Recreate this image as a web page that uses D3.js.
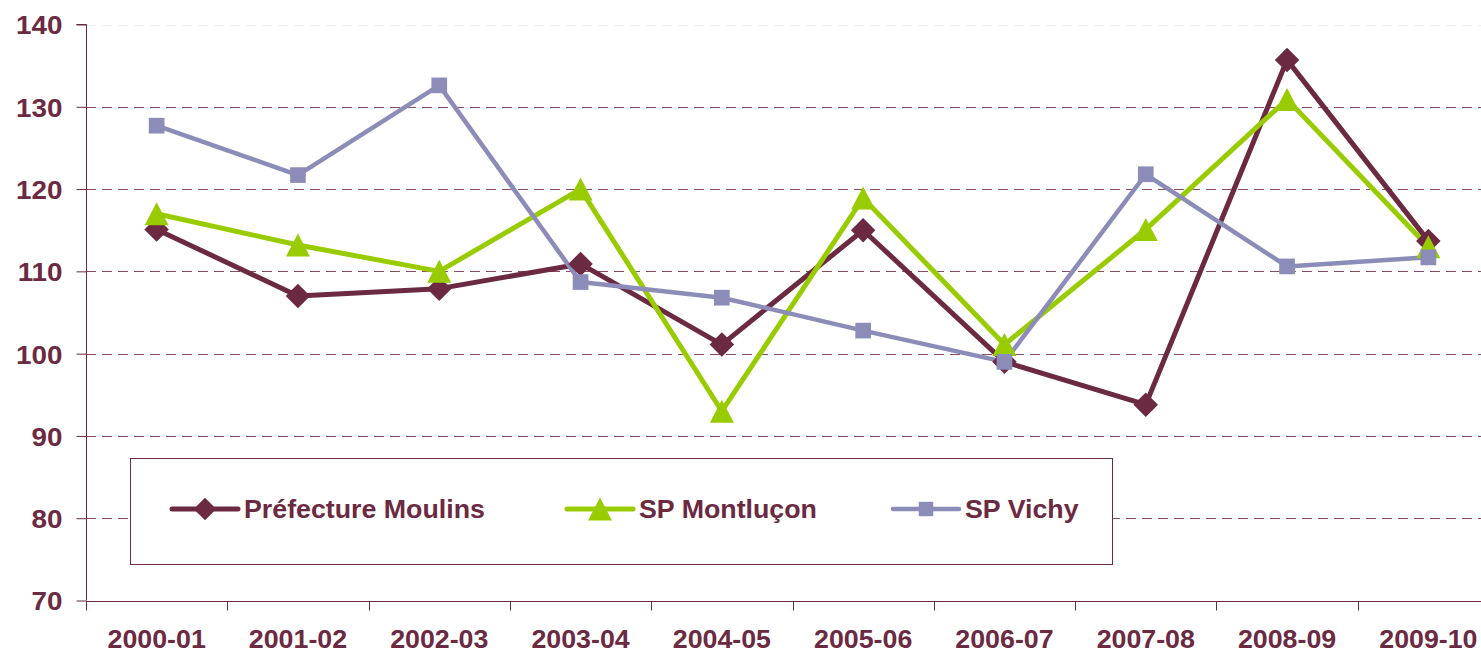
<!DOCTYPE html>
<html>
<head>
<meta charset="utf-8">
<script src="https://cdn.jsdelivr.net/npm/d3@7"></script>
<style>
  body { margin: 0; background: #fff; }
  text { font-family: "Liberation Sans", Arial, sans-serif; font-weight: bold; fill: #6b2942; }
</style>
</head>
<body>
<div id="chart"></div>
<script>
const years = ["2000-01", "2001-02", "2002-03", "2003-04", "2004-05", "2005-06", "2006-07", "2007-08", "2008-09", "2009-10"];
const moulins = [115.1, 107.0, 107.9, 110.9, 101.1, 115.0, 99.0, 93.8, 135.7, 113.7];
const montlucon = [117.0, 113.2, 110.0, 120.0, 93.0, 118.9, 101.1, 115.1, 130.9, 113.0];
const vichy = [127.7, 121.7, 132.6, 108.7, 106.8, 102.8, 99.0, 121.8, 110.6, 111.7];
const yTicks = [70, 80, 90, 100, 110, 120, 130, 140];

const width = 1481;
const height = 652;
const axisColor = "#6b2942";

// custom triangle: 24 wide, 23 tall, centred on its box
const triangle = {
  draw(ctx) {
    ctx.moveTo(0, -11.5);
    ctx.lineTo(12, 11.5);
    ctx.lineTo(-12, 11.5);
    ctx.closePath();
  }
};

const series = [
  { name: "Préfecture Moulins", values: moulins, color: "#6b2942", symbol: d3.symbolSquare, size: 300, rotate: 45, lw: 5 },
  { name: "SP Montluçon", values: montlucon, color: "#99cc00", symbol: triangle, size: 64, rotate: 0, lw: 5 },
  { name: "SP Vichy", values: vichy, color: "#8c8cb8", symbol: d3.symbolSquare, size: 246, rotate: 0, lw: 4.5 }
];

const svg = d3.select("#chart")
  .append("svg")
  .attr("width", width)
  .attr("height", height);

// Scales
const x = d3.scaleBand()
  .domain(years)
  .range([86, 1499]);

const y = d3.scaleLinear()
  .domain([70, 140])
  .range([600.5, 24.5]);

// Gridlines
svg.append("g")
  .selectAll("line")
  .data(yTicks.filter(d => d > 70))
  .enter()
  .append("line")
  .attr("x1", 86)
  .attr("x2", width)
  .attr("y1", d => Math.round(y(d)) + 0.5)
  .attr("y2", d => Math.round(y(d)) + 0.5)
  .attr("stroke", d => d === 140 ? "#eeeeee" : "#8a4a62")
  .attr("stroke-width", 1)
  .attr("stroke-dasharray", "10,6");

// Y axis
const yAxis = d3.axisLeft(y)
  .tickValues(yTicks)
  .tickSize(10)
  .tickPadding(14);

const gy = svg.append("g")
  .attr("transform", "translate(86.5,0)")
  .call(yAxis);
gy.selectAll("path, line").attr("stroke", axisColor);
gy.select(".domain").attr("d", `M-10,${y(140)}H0V${y(70)}`);
gy.selectAll("text")
  .style("font-size", "26px")
  .attr("dy", "0.36em")
  .attr("x", -24 / 1.07)
  .attr("transform", "scale(1.07,1)");

// X axis
const xAxis = d3.axisBottom(x)
  .tickSize(0)
  .tickPadding(28);

const gx = svg.append("g")
  .attr("transform", `translate(0,${Math.round(y(70)) + 0.5})`)
  .call(xAxis);
gx.select(".domain").attr("stroke", axisColor).attr("d", `M86,0H${width}`);
gx.selectAll("text")
  .style("font-size", "26px")
  .attr("transform", "scale(1.03,1)");

// Category boundary ticks
gx.append("g")
  .selectAll("line")
  .data(years)
  .enter()
  .append("line")
  .attr("x1", d => Math.round(x(d)) + 0.5)
  .attr("x2", d => Math.round(x(d)) + 0.5)
  .attr("y1", 0)
  .attr("y2", 9)
  .attr("stroke", axisColor);

// Lines and markers
const line = d3.line()
  .x((d, i) => x(years[i]) + x.bandwidth() / 2)
  .y(d => y(d));

series.forEach(s => {
  svg.append("path")
    .datum(s.values)
    .attr("fill", "none")
    .attr("stroke", s.color)
    .attr("stroke-width", s.lw)
    .attr("stroke-linejoin", "round")
    .attr("d", line);
});

series.forEach(s => {
  svg.append("g")
    .selectAll("path")
    .data(s.values)
    .enter()
    .append("path")
    .attr("d", d3.symbol().type(s.symbol).size(s.size))
    .attr("fill", s.color)
    .attr("transform", (d, i) => `translate(${x(years[i]) + x.bandwidth() / 2},${y(d)}) rotate(${s.rotate})`);
});

// Legend
const legend = svg.append("g");
legend.append("rect")
  .attr("x", 130.5)
  .attr("y", 458.5)
  .attr("width", 982)
  .attr("height", 106)
  .attr("fill", "#fff")
  .attr("stroke", axisColor)
  .attr("stroke-width", 1);

const legendX = [172, 567, 893];
series.forEach((s, i) => {
  const g = legend.append("g").attr("transform", `translate(${legendX[i]},509)`);
  g.append("line")
    .attr("x1", 0)
    .attr("x2", 66)
    .attr("stroke", s.color)
    .attr("stroke-width", s.lw)
    .attr("stroke-linecap", "round");
  g.append("path")
    .attr("d", d3.symbol().type(s.symbol).size(s.size * 0.85))
    .attr("fill", s.color)
    .attr("transform", `translate(33,0) rotate(${s.rotate})`);
  g.append("text")
    .attr("x", 72 / 1.03)
    .attr("y", 0)
    .attr("dy", "0.36em")
    .attr("transform", "scale(1.03,1)")
    .style("font-size", "26px")
    .text(s.name);
});
</script>
</body>
</html>
